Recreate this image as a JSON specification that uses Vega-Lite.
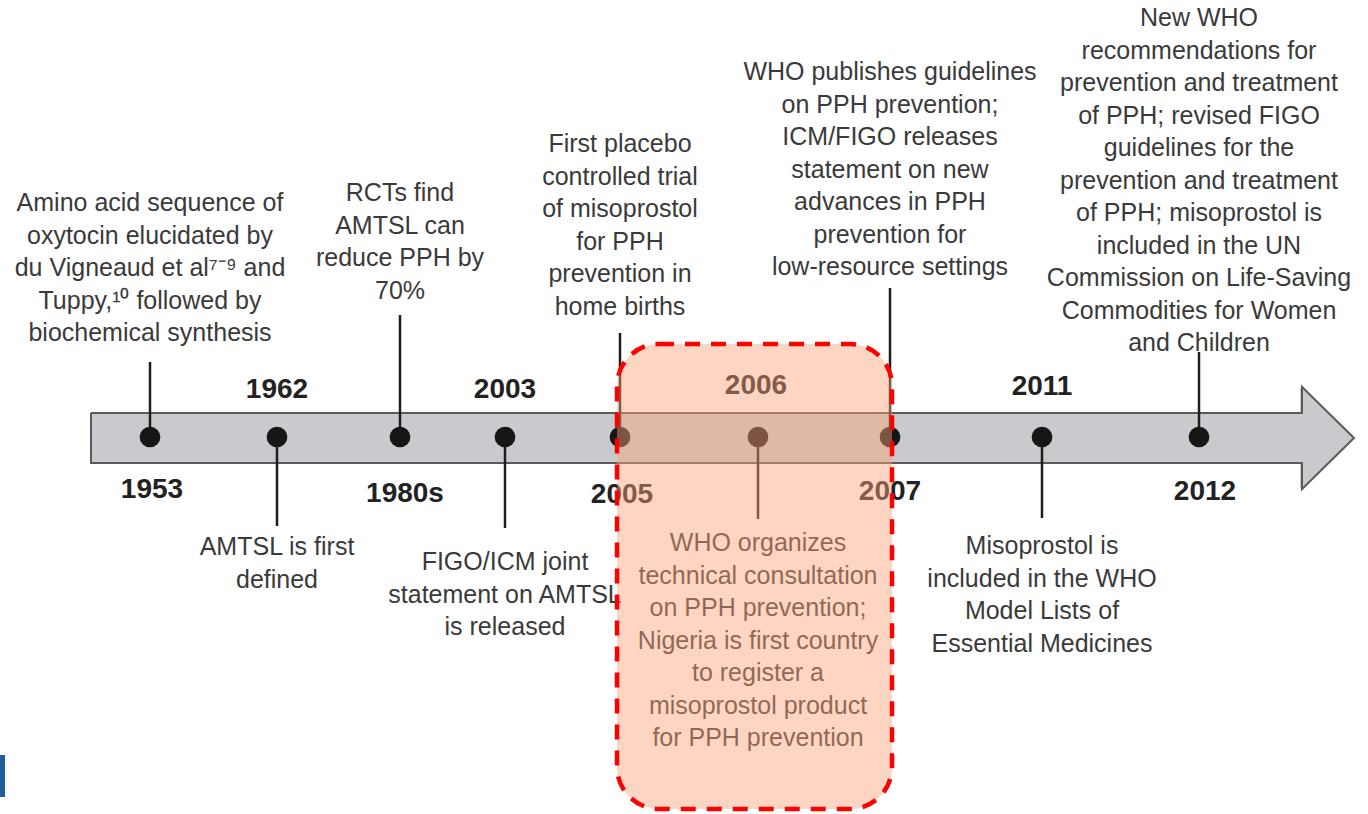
{
  "$schema": "https://vega.github.io/schema/vega-lite/v6.json",
  "width": 1368,
  "height": 814,
  "autosize": {"type": "none"},
  "padding": 0,
  "background": "white",
  "config": {"view": {"stroke": null}},
  "datasets": {
    "bar": [{"x": 91, "x2": 1302, "y": 413, "y2": 463}],
    "head": [{"x": 1300, "y": 387, "y2": 489}, {"x": 1354, "y": 438, "y2": 438}],
    "outline": [
      {"o": 1, "x": 91, "y": 413}, {"o": 2, "x": 1302, "y": 413}, {"o": 3, "x": 1302, "y": 387},
      {"o": 4, "x": 1354, "y": 438}, {"o": 5, "x": 1302, "y": 489}, {"o": 6, "x": 1302, "y": 463},
      {"o": 7, "x": 91, "y": 463}, {"o": 8, "x": 91, "y": 413}
    ],
    "events": [
      {"year": "1953", "x": 150, "base": 437, "yearX": 152, "yearY": 490, "lineEnd": 362, "textY": 203, "label": "Amino acid sequence of\noxytocin elucidated by\ndu Vigneaud et al⁷⁻⁹ and\nTuppy,¹⁰ followed by\nbiochemical synthesis"},
      {"year": "1962", "x": 277, "base": 437, "yearX": 277, "yearY": 390, "lineEnd": 526, "textY": 547, "label": "AMTSL is first\ndefined"},
      {"year": "1980s", "x": 400, "base": 437, "yearX": 405, "yearY": 494, "lineEnd": 315, "textY": 193, "label": "RCTs find\nAMTSL can\nreduce PPH by\n70%"},
      {"year": "2003", "x": 505, "base": 437, "yearX": 505, "yearY": 390, "lineEnd": 528, "textY": 562, "label": "FIGO/ICM joint\nstatement on AMTSL\nis released"},
      {"year": "2005", "x": 620, "base": 437, "yearX": 622, "yearY": 495, "lineEnd": 333, "textY": 144, "label": "First placebo\ncontrolled trial\nof misoprostol\nfor PPH\nprevention in\nhome births"},
      {"year": "2006", "x": 758, "base": 437, "yearX": 756, "yearY": 386, "lineEnd": 519, "textY": 543, "label": "WHO organizes\ntechnical consultation\non PPH prevention;\nNigeria is first country\nto register a\nmisoprostol product\nfor PPH prevention"},
      {"year": "2007", "x": 890, "base": 437, "yearX": 890, "yearY": 492, "lineEnd": 288, "textY": 72, "label": "WHO publishes guidelines\non PPH prevention;\nICM/FIGO releases\nstatement on new\nadvances in PPH\nprevention for\nlow-resource settings"},
      {"year": "2011", "x": 1042, "base": 437, "yearX": 1042, "yearY": 387, "lineEnd": 518, "textY": 546, "label": "Misoprostol is\nincluded in the WHO\nModel Lists of\nEssential Medicines"},
      {"year": "2012", "x": 1199, "base": 437, "yearX": 1205, "yearY": 492, "lineEnd": 352, "textY": 18, "label": "New WHO\nrecommendations for\nprevention and treatment\nof PPH; revised FIGO\nguidelines for the\nprevention and treatment\nof PPH; misoprostol is\nincluded in the UN\nCommission on Life-Saving\nCommodities for Women\nand Children"}
    ],
    "box": [{"x": 617, "x2": 892, "y": 344, "y2": 809}],
    "blue": [{"x": 0, "x2": 5, "y": 755, "y2": 797}]
  },
  "encoding": {
    "x": {"type": "quantitative", "scale": {"domain": [0, 1368]}, "axis": null},
    "y": {"type": "quantitative", "scale": {"domain": [0, 814], "reverse": true}, "axis": null}
  },
  "layer": [
    {
      "data": {"name": "bar"},
      "mark": {"type": "rect", "fill": "#c8cacd"},
      "encoding": {
        "x": {"field": "x", "type": "quantitative"},
        "x2": {"field": "x2"},
        "y": {"field": "y", "type": "quantitative"},
        "y2": {"field": "y2"}
      }
    },
    {
      "data": {"name": "head"},
      "mark": {"type": "area", "fill": "#c8cacd", "orient": "vertical"},
      "encoding": {
        "x": {"field": "x", "type": "quantitative"},
        "y": {"field": "y", "type": "quantitative"},
        "y2": {"field": "y2"}
      }
    },
    {
      "data": {"name": "outline"},
      "mark": {"type": "line", "stroke": "#5a5a5a", "strokeWidth": 2},
      "encoding": {
        "x": {"field": "x", "type": "quantitative"},
        "y": {"field": "y", "type": "quantitative"},
        "order": {"field": "o", "type": "quantitative"}
      }
    },
    {
      "data": {"name": "events"},
      "mark": {"type": "rule", "stroke": "#1e1e1e", "strokeWidth": 2.5},
      "encoding": {
        "x": {"field": "x", "type": "quantitative"},
        "y": {"field": "base", "type": "quantitative"},
        "y2": {"field": "lineEnd"}
      }
    },
    {
      "data": {"name": "events"},
      "mark": {"type": "point", "shape": "circle", "filled": true, "fill": "#161616", "opacity": 1, "size": 430},
      "encoding": {
        "x": {"field": "x", "type": "quantitative"},
        "y": {"field": "base", "type": "quantitative"}
      }
    },
    {
      "data": {"name": "events"},
      "mark": {"type": "text", "font": "Liberation Sans", "fontSize": 28, "fontWeight": "bold", "fill": "#222222", "align": "center", "baseline": "middle"},
      "encoding": {
        "x": {"field": "yearX", "type": "quantitative"},
        "y": {"field": "yearY", "type": "quantitative"},
        "text": {"field": "year", "type": "nominal"}
      }
    },
    {
      "data": {"name": "events"},
      "mark": {"type": "text", "font": "Liberation Sans", "fontSize": 25, "fill": "#3a3a3a", "align": "center", "baseline": "middle", "lineBreak": "\n", "lineHeight": 32.5},
      "encoding": {
        "x": {"field": "x", "type": "quantitative"},
        "y": {"field": "textY", "type": "quantitative"},
        "text": {"field": "label", "type": "nominal"}
      }
    },
    {
      "data": {"name": "box"},
      "mark": {"type": "rect", "fill": "#fba277", "fillOpacity": 0.45, "stroke": "#ff0000", "strokeWidth": 4.5, "strokeDash": [15, 11], "cornerRadius": 42},
      "encoding": {
        "x": {"field": "x", "type": "quantitative"},
        "x2": {"field": "x2"},
        "y": {"field": "y", "type": "quantitative"},
        "y2": {"field": "y2"}
      }
    },
    {
      "data": {"name": "blue"},
      "mark": {"type": "rect", "fill": "#1f5d9c"},
      "encoding": {
        "x": {"field": "x", "type": "quantitative"},
        "x2": {"field": "x2"},
        "y": {"field": "y", "type": "quantitative"},
        "y2": {"field": "y2"}
      }
    }
  ]
}
